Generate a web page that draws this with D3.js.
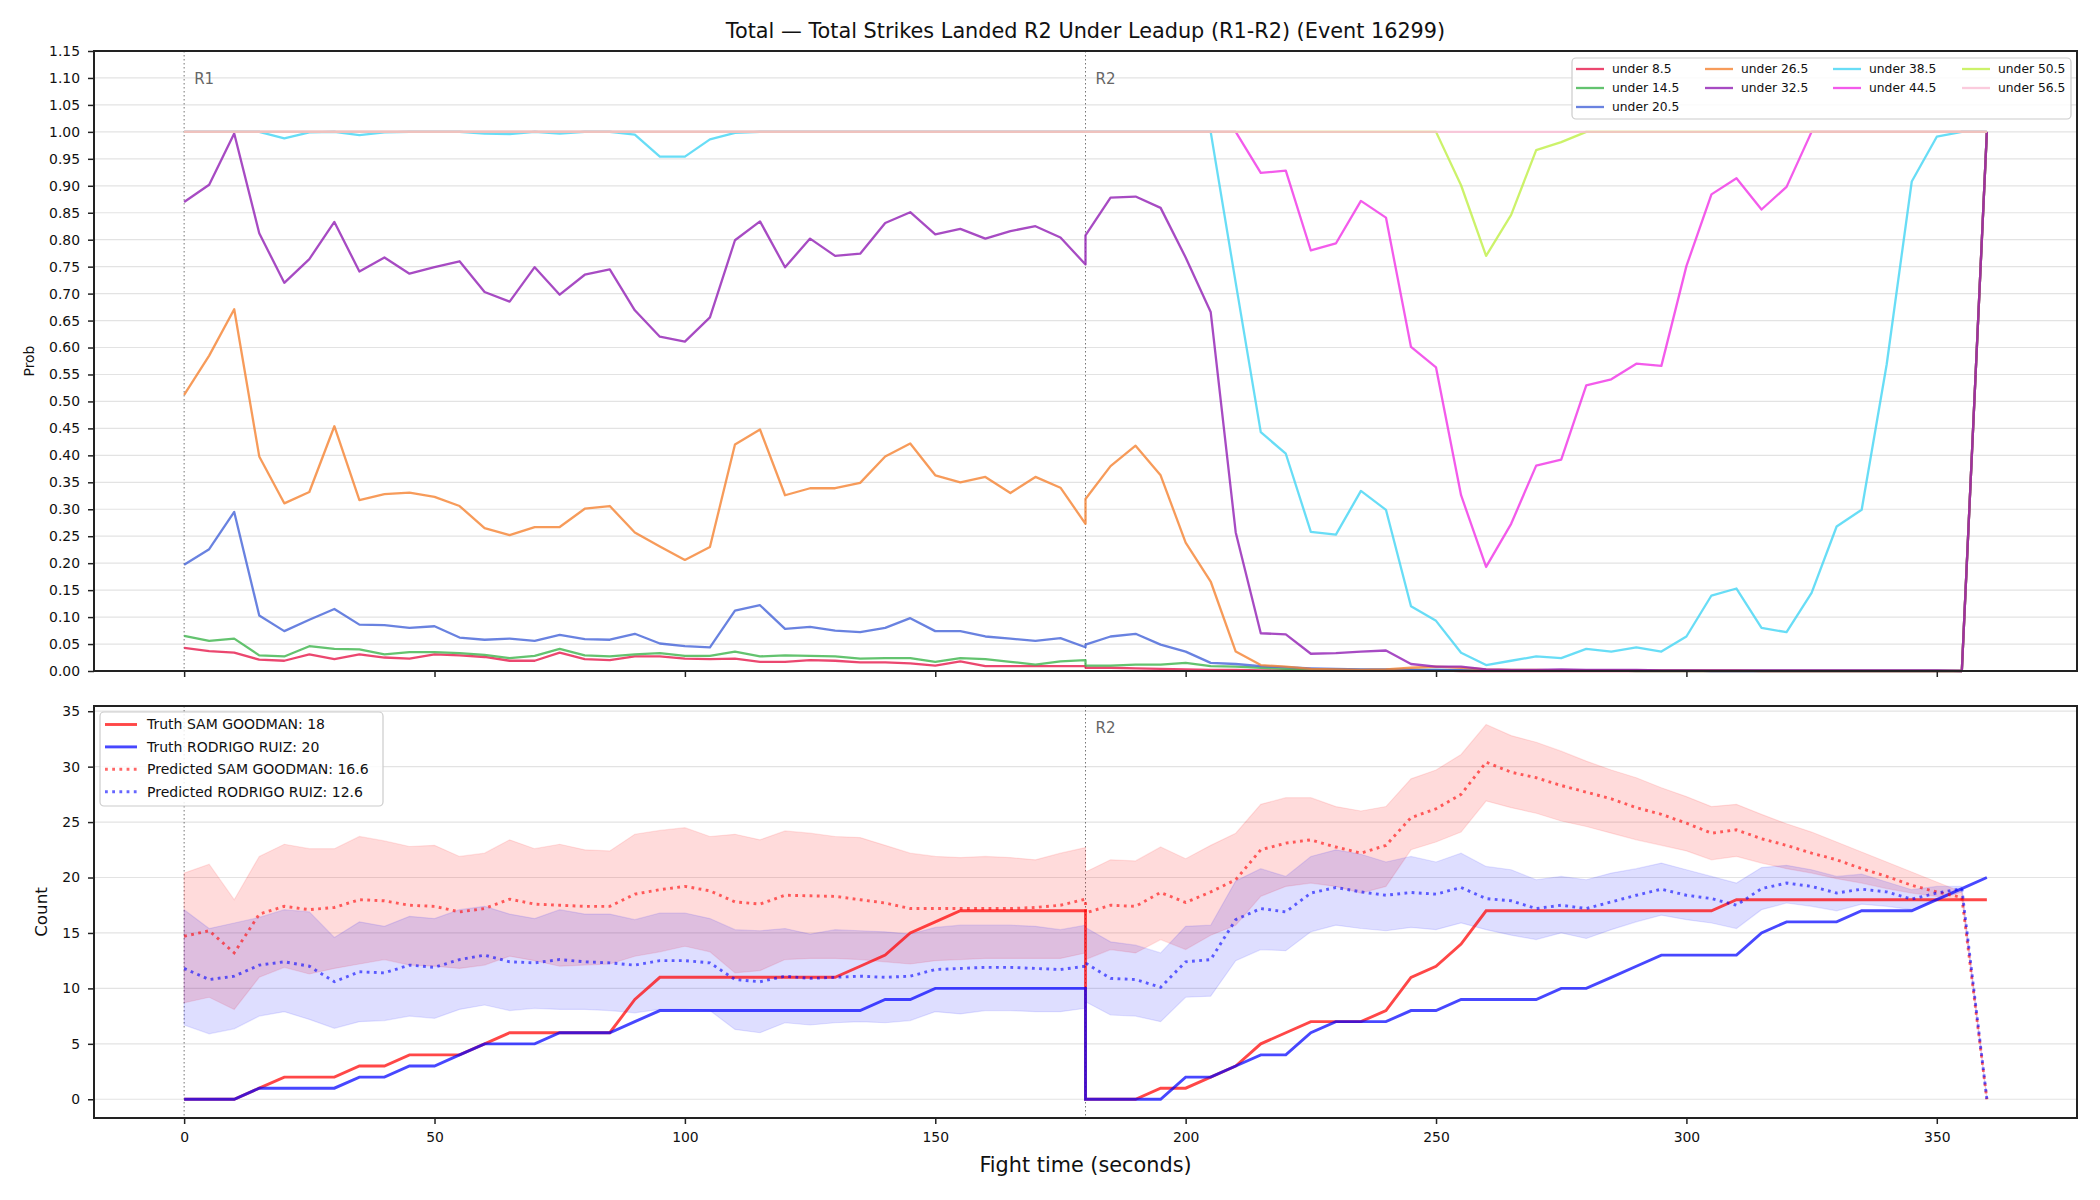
<!DOCTYPE html>
<html>
<head>
<meta charset="utf-8">
<script src="https://cdn.jsdelivr.net/npm/d3@7"></script>
<style>
  body { margin: 0; background: #fff; }
  svg text { font-family: "DejaVu Sans", sans-serif; fill: #111; }
</style>
</head>
<body>
<div id="chart"></div>
<script>
// Fight time (seconds): R1 then R2, the 180 s point appears in both rounds
var times = [0,5,10,15,20,25,30,35,40,45,50,55,60,65,70,75,80,85,90,95,100,105,110,115,120,125,130,135,140,145,150,155,160,165,170,175,180,
  180,185,190,195,200,205,210,215,220,225,230,235,240,245,250,255,260,265,270,275,280,285,290,295,300,305,310,315,320,325,330,335,340,345,350,355,360];

// Top panel: probability of "under X" lines
var under85 = [.043,.037,.034,.021,.019,.031,.022,.031,.025,.023,.031,.029,.026,.019,.019,.034,.022,.020,.027,.027,.023,.022,.023,.017,.017,.020,.019,.016,.016,.014,.010,.018,.009,.009,.009,.009,.009,
  .006,.006,.005,.004,.003,.002,.002,.001,.001,.001,.001,.001,.001,.001,.001,0,0,0,0,0,0,0,0,0,0,0,0,0,0,0,0,0,0,0,0,0,1];
var under145 = [.065,.056,.060,.029,.027,.046,.041,.040,.031,.035,.035,.033,.030,.024,.028,.041,.029,.027,.031,.033,.028,.028,.036,.027,.029,.028,.027,.023,.024,.024,.017,.024,.022,.017,.012,.018,.020,
  .010,.010,.012,.012,.015,.009,.008,.006,.004,.003,.003,.002,.002,.002,.002,.001,.001,.001,.001,.001,.001,.001,0,0,0,0,0,0,0,0,0,0,0,0,0,0,1];
var under205 = [.197,.226,.295,.103,.074,.095,.115,.086,.085,.080,.083,.062,.058,.060,.056,.067,.059,.058,.069,.051,.046,.044,.112,.122,.078,.082,.075,.072,.080,.098,.074,.074,.064,.060,.056,.061,.044,
  .049,.064,.069,.049,.036,.015,.013,.009,.007,.005,.004,.003,.003,.002,.002,.002,.001,.001,.001,.001,.001,.001,.001,.001,.001,0,0,0,0,0,0,0,0,0,0,0,1];
var under265 = [.512,.585,.671,.398,.311,.332,.454,.317,.328,.331,.323,.306,.265,.252,.267,.267,.301,.306,.257,.231,.206,.230,.420,.448,.326,.339,.339,.349,.398,.422,.363,.350,.360,.330,.360,.340,.273,
  .319,.380,.418,.363,.238,.166,.036,.011,.008,.004,.003,.002,.003,.006,.008,.006,.003,.002,.002,.001,.001,.001,.001,.001,.001,.001,.001,0,0,0,0,0,0,0,0,0,1];
var under325 = [.870,.902,.997,.812,.720,.764,.833,.741,.767,.737,.749,.760,.703,.685,.749,.698,.735,.745,.669,.620,.611,.656,.799,.834,.749,.802,.770,.774,.831,.851,.810,.820,.802,.816,.825,.804,.754,
  .808,.878,.880,.859,.767,.666,.257,.070,.068,.032,.033,.036,.038,.013,.008,.008,.003,.002,.002,.003,.002,.002,.002,.001,.001,.001,.001,.001,.001,.001,.001,.001,.001,.001,.001,0,1];
var under385 = [1,1,1,1,.988,.999,1,.994,.999,1,1,1,.997,.996,1,.997,1,1,.995,.954,.954,.986,.998,1,1,1,1,1,1,1,1,1,1,1,1,1,1,
  1,1,1,1,1,1,.72,.443,.403,.258,.253,.334,.299,.120,.093,.034,.011,.019,.027,.024,.041,.036,.044,.036,.064,.140,.153,.080,.072,.145,.268,.299,.569,.908,.991,1,1];
var under445 = [1,1,1,1,1,1,1,1,1,1,1,1,1,1,1,1,1,1,1,1,1,1,1,1,1,1,1,1,1,1,1,1,1,1,1,1,1,
  1,1,1,1,1,1,1,.924,.928,.780,.793,.872,.841,.601,.563,.326,.193,.273,.381,.392,.530,.541,.570,.566,.751,.884,.914,.856,.898,1,1,1,1,1,1,1,1];
var under505 = [1,1,1,1,1,1,1,1,1,1,1,1,1,1,1,1,1,1,1,1,1,1,1,1,1,1,1,1,1,1,1,1,1,1,1,1,1,
  1,1,1,1,1,1,1,1,1,1,1,1,1,1,1,.901,.770,.846,.966,.981,1,1,1,1,1,1,1,1,1,1,1,1,1,1,1,1,1];
var under565 = [1,1,1,1,1,1,1,1,1,1,1,1,1,1,1,1,1,1,1,1,1,1,1,1,1,1,1,1,1,1,1,1,1,1,1,1,1,
  1,1,1,1,1,1,1,1,1,1,1,1,1,1,1,1,1,1,1,1,1,1,1,1,1,1,1,1,1,1,1,1,1,1,1,1,1];

var lineNames = ["under 8.5","under 14.5","under 20.5","under 26.5","under 32.5","under 38.5","under 44.5","under 50.5","under 56.5"];
var lineColors = ["#e6194b","#3cb44b","#4363d8","#f58231","#911eb4","#42d4f4","#f032e6","#bfef45","#fabed4"];
var probSeries = [under85, under145, under205, under265, under325, under385, under445, under505, under565];

// Bottom panel: cumulative strikes
var truthSam = [0,0,0,1,2,2,2,3,3,4,4,4,5,6,6,6,6,6,9,11,11,11,11,11,11,11,11,12,13,15,16,17,17,17,17,17,17,
  0,0,0,1,1,2,3,5,6,7,7,7,8,11,12,14,17,17,17,17,17,17,17,17,17,17,18,18,18,18,18,18,18,18,18,18,18];
var truthRuiz = [0,0,0,1,1,1,1,2,2,3,3,4,5,5,5,6,6,6,7,8,8,8,8,8,8,8,8,8,9,9,10,10,10,10,10,10,10,
  0,0,0,0,2,2,3,4,4,6,7,7,7,8,8,9,9,9,9,10,10,11,12,13,13,13,13,15,16,16,16,17,17,17,18,19,20];
var predSam = [14.7,15.2,13.2,16.7,17.4,17.1,17.3,18.0,17.9,17.5,17.4,16.9,17.2,18.05,17.6,17.5,17.4,17.4,18.5,18.9,19.2,18.8,17.8,17.6,18.4,18.35,18.3,18.0,17.7,17.2,17.2,17.2,17.2,17.2,17.3,17.5,18.05,
  16.8,17.5,17.4,18.65,17.75,18.7,19.8,22.5,23.1,23.4,22.75,22.2,22.9,25.4,26.2,27.5,30.4,29.5,29.0,28.3,27.7,27.1,26.3,25.7,24.9,24.0,24.3,23.5,22.9,22.2,21.6,20.8,20.1,19.3,18.7,18.2,0];
var predRuiz = [11.8,10.8,11.1,12.1,12.4,12.0,10.6,11.5,11.4,12.1,11.9,12.6,13.0,12.4,12.3,12.6,12.4,12.3,12.1,12.5,12.5,12.3,10.8,10.6,11.1,10.9,11.0,11.1,11.0,11.1,11.7,11.8,11.9,11.9,11.8,11.7,12.0,
  12.3,10.9,10.8,10.1,12.4,12.6,16.2,17.2,16.9,18.6,19.1,18.7,18.4,18.65,18.5,19.1,18.1,17.9,17.2,17.5,17.2,17.8,18.4,18.95,18.4,18.1,17.5,19.0,19.5,19.2,18.6,18.95,18.7,18.05,18.6,19.0,0];
var samLo = [8.7,9.2,8.1,11.0,11.9,11.3,11.8,12.2,12.6,12.1,12.0,11.8,12.1,12.9,12.5,12.0,12.1,12.2,12.9,13.3,13.8,13.3,11.4,11.6,12.6,12.7,12.7,12.6,12.4,12.2,12.5,12.6,12.7,12.7,12.7,12.7,13.2,
  12.6,13.5,13.2,14.4,13.5,14.8,15.7,18.3,19.2,19.5,19.2,18.6,19.2,22.5,23.2,24.1,26.9,26.3,25.8,25.1,24.6,24.0,23.4,22.9,22.4,21.6,21.9,21.3,20.8,20.4,19.9,19.5,19.0,18.6,18.3,18.0,0];
var samHi = [20.4,21.2,18.0,21.9,23.0,22.6,22.6,23.7,23.3,22.8,22.9,21.9,22.2,23.4,22.6,23.0,22.5,22.4,23.9,24.25,24.5,23.7,23.9,23.4,24.2,24.0,23.7,23.6,22.9,22.2,21.9,21.8,21.9,21.8,21.6,22.2,22.7,
  20.5,21.6,21.5,22.75,21.7,22.9,24.0,26.6,27.2,27.2,26.4,26.0,26.4,28.9,29.7,31.1,33.8,32.8,32.2,31.4,30.5,29.7,29.0,28.1,27.3,26.4,26.6,25.7,24.85,24.1,23.2,22.3,21.4,20.5,19.6,18.7,0];
var ruizLo = [6.7,5.9,6.35,7.5,7.9,7.2,6.4,7.0,7.1,7.5,7.3,8.1,8.5,8.0,8.2,8.1,8.1,8.0,7.8,8.1,8.1,8.0,6.3,6.0,6.9,6.7,6.9,7.0,6.9,7.1,7.9,7.7,8.0,8.0,7.9,7.9,8.2,
  8.8,7.6,7.5,7.0,9.2,9.3,12.5,13.5,13.4,15.1,15.7,15.4,15.2,15.5,15.3,15.9,15.3,14.8,14.4,15.0,14.5,15.3,16.0,16.6,16.2,15.9,15.4,17.1,17.7,17.4,17.0,17.6,17.4,17.1,18.0,18.7,0];
var ruizHi = [17.1,15.4,15.9,16.4,17.1,16.9,14.6,16.0,15.6,16.5,16.3,17.1,17.4,16.7,16.3,17.1,16.7,16.7,16.2,16.8,16.8,16.3,15.3,15.2,15.4,14.9,15.3,15.2,15.1,14.9,15.5,15.7,15.7,15.7,15.6,15.3,15.7,
  15.5,14.2,13.9,13.2,15.6,15.7,19.7,20.8,20.1,21.9,22.5,22.1,21.4,21.9,21.4,22.2,21.0,20.7,19.8,20.1,19.8,20.4,20.8,21.3,20.7,20.1,19.5,20.9,21.1,20.7,20.1,20.3,19.6,18.9,19.2,19.2,0];

var countLegend = ["Truth SAM GOODMAN: 18", "Truth RODRIGO RUIZ: 20", "Predicted SAM GOODMAN: 16.6", "Predicted RODRIGO RUIZ: 12.6"];

// Ticks and round markers
var timeTicks = [0,50,100,150,200,250,300,350];
var probTicks = [0,0.05,0.10,0.15,0.20,0.25,0.30,0.35,0.40,0.45,0.50,0.55,0.60,0.65,0.70,0.75,0.80,0.85,0.90,0.95,1.00,1.05,1.10,1.15];
var countTicks = [0,5,10,15,20,25,30,35];
var rounds = [{name: "R1", t: 0}, {name: "R2", t: 180}];

// Layout
var svgWidth = 2100, svgHeight = 1200;
var left = 94, right = 2077;
var top1 = 51, bot1 = 671;
var top2 = 706, bot2 = 1118;

var svg = d3.select("#chart").append("svg")
  .attr("width", svgWidth)
  .attr("height", svgHeight);

var xScale = d3.scaleLinear().domain([-18, 378]).range([left, right]);
var yProb = d3.scaleLinear().domain([0, 1.15]).range([bot1, top1]);
var yCount = d3.scaleLinear().domain([-1.69, 35.47]).range([bot2, top2]);

function pts(vals) {
  return times.map((t, i) => ({t: t, v: vals[i]}));
}

function drawGrid(yScale, ticks) {
  svg.append("g").selectAll("line").data(ticks).enter().append("line")
    .attr("x1", left).attr("x2", right)
    .attr("y1", d => yScale(d)).attr("y2", d => yScale(d))
    .attr("stroke", "#e3e3e3").attr("stroke-width", 1.2);
}

function drawAxes(yScale, y0, y1, ticks, fmt, showX) {
  var ya = svg.append("g")
    .attr("transform", `translate(${left},0)`)
    .call(d3.axisLeft(yScale).tickValues(ticks).tickFormat(fmt).tickSize(6).tickPadding(8));
  var xa = svg.append("g")
    .attr("transform", `translate(0,${y1})`)
    .call(d3.axisBottom(xScale).tickValues(timeTicks).tickFormat(showX ? d3.format("d") : "").tickSize(6).tickPadding(8));
  [ya, xa].forEach(a => {
    a.select(".domain").remove();
    a.selectAll(".tick line").attr("stroke", "#222").attr("stroke-width", 1.5);
    a.selectAll(".tick text").attr("font-size", "13.9px").attr("fill", "#111")
      .attr("font-family", "DejaVu Sans");
  });
  svg.append("rect")
    .attr("x", left).attr("y", y0)
    .attr("width", right - left).attr("height", y1 - y0)
    .attr("fill", "none").attr("stroke", "#222").attr("stroke-width", 2);
}

function drawRounds(y0, y1, labelFilter) {
  rounds.forEach(r => {
    svg.append("line")
      .attr("x1", xScale(r.t)).attr("x2", xScale(r.t))
      .attr("y1", y0).attr("y2", y1)
      .attr("stroke", "#555").attr("stroke-width", 1)
      .attr("stroke-dasharray", "1.5,2.5").attr("opacity", 0.8);
    if (labelFilter(r)) {
      svg.append("text")
        .attr("x", xScale(r.t) + 10)
        .attr("y", y0 + (y1 - y0) * 0.03)
        .attr("dy", "0.95em")
        .attr("font-size", "15px")
        .style("fill", "#666")
        .text(r.name);
    }
  });
}

// ---------- Top panel ----------
drawGrid(yProb, probTicks);
drawRounds(top1, bot1, r => true);

var probLine = d3.line().x(d => xScale(d.t)).y(d => yProb(d.v));
probSeries.forEach((vals, i) => {
  svg.append("path")
    .datum(pts(vals))
    .attr("d", probLine)
    .attr("fill", "none")
    .attr("stroke", lineColors[i])
    .attr("stroke-width", 2.3)
    .attr("stroke-opacity", 0.8)
    .attr("stroke-linejoin", "round");
});
drawAxes(yProb, top1, bot1, probTicks, d3.format(".2f"), false);

// legend (4 columns, column-major)
var leg1 = svg.append("g");
leg1.append("rect")
  .attr("x", 1572).attr("y", 58).attr("width", 499).attr("height", 61)
  .attr("rx", 4).attr("fill", "white").attr("fill-opacity", 0.85)
  .attr("stroke", "#ccc").attr("stroke-width", 1.2);
var colX = [1576, 1705, 1833, 1962];
var colOf = [0,0,0,1,1,2,2,3,3], rowOf = [0,1,2,0,1,0,1,0,1];
lineNames.forEach((name, i) => {
  var x = colX[colOf[i]], y = 69 + rowOf[i] * 19;
  leg1.append("line").attr("x1", x).attr("x2", x + 28).attr("y1", y).attr("y2", y)
    .attr("stroke", lineColors[i]).attr("stroke-width", 2.3).attr("stroke-opacity", 0.8);
  leg1.append("text").attr("x", x + 36).attr("y", y).attr("dy", "0.35em")
    .attr("font-size", "12.3px").text(name);
});

// ---------- Bottom panel ----------
drawGrid(yCount, countTicks);
// R1 label sits under the legend in this panel, so only R2 is labelled
drawRounds(top2, bot2, r => r.t > 0);

var band = d3.area().x(d => xScale(d.t)).y0(d => yCount(d.lo)).y1(d => yCount(d.hi));
[[samLo, samHi, "red", 0.14], [ruizLo, ruizHi, "blue", 0.13]].forEach(b => {
  var data = times.map((t, i) => ({t: t, lo: b[0][i], hi: b[1][i]}));
  svg.append("path").datum(data).attr("d", band)
    .attr("fill", b[2]).attr("fill-opacity", b[3])
    .attr("stroke", b[2]).attr("stroke-opacity", 0.1).attr("stroke-width", 1.2);
});

var countLine = d3.line().x(d => xScale(d.t)).y(d => yCount(d.v));
var countStyles = [
  {vals: truthSam, color: "red", dash: null, op: 0.72},
  {vals: truthRuiz, color: "blue", dash: null, op: 0.72},
  {vals: predSam, color: "red", dash: "2.8,4.4", op: 0.6},
  {vals: predRuiz, color: "blue", dash: "2.8,4.4", op: 0.6}
];
countStyles.forEach(s => {
  svg.append("path").datum(pts(s.vals)).attr("d", countLine)
    .attr("fill", "none").attr("stroke", s.color)
    .attr("stroke-opacity", s.op).attr("stroke-width", 2.9)
    .attr("stroke-dasharray", s.dash);
});
drawAxes(yCount, top2, bot2, countTicks, d3.format("d"), true);

var leg2 = svg.append("g");
leg2.append("rect")
  .attr("x", 100).attr("y", 712).attr("width", 283).attr("height", 94)
  .attr("rx", 4).attr("fill", "white").attr("fill-opacity", 0.85)
  .attr("stroke", "#ccc").attr("stroke-width", 1.2);
countLegend.forEach((name, i) => {
  var y = 724.5 + i * 22.4, s = countStyles[i];
  leg2.append("line").attr("x1", 105).attr("x2", 137).attr("y1", y).attr("y2", y)
    .attr("stroke", s.color).attr("stroke-opacity", s.op).attr("stroke-width", 2.9)
    .attr("stroke-dasharray", s.dash);
  leg2.append("text").attr("x", 147).attr("y", y).attr("dy", "0.35em")
    .attr("font-size", "14px").text(name);
});

// ---------- Titles and axis labels ----------
svg.append("text")
  .attr("x", (left + right) / 2).attr("y", 31).attr("dy", "0.35em")
  .attr("text-anchor", "middle").attr("font-size", "20.8px")
  .text("Total \u2014 Total Strikes Landed R2 Under Leadup (R1-R2) (Event 16299)");

svg.append("text")
  .attr("x", (left + right) / 2).attr("y", 1165).attr("dy", "0.35em")
  .attr("text-anchor", "middle").attr("font-size", "20.8px")
  .text("Fight time (seconds)");

svg.append("text")
  .attr("transform", `translate(29,${(top1 + bot1) / 2}) rotate(-90)`)
  .attr("text-anchor", "middle").attr("dy", "0.35em")
  .attr("font-size", "13.9px").text("Prob");

svg.append("text")
  .attr("transform", `translate(41,${(top2 + bot2) / 2}) rotate(-90)`)
  .attr("text-anchor", "middle").attr("dy", "0.35em")
  .attr("font-size", "16.7px").text("Count");
</script>
</body>
</html>
